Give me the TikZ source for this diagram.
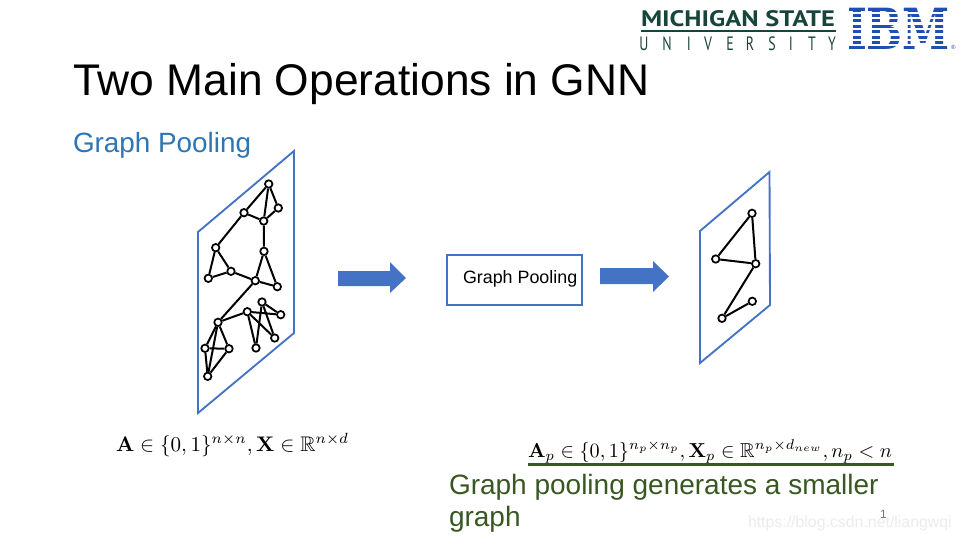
\documentclass[tikz,border=0pt]{standalone}
\usepackage{amsmath,amssymb}
\usepackage[no-math]{fontspec}
\setmainfont{Liberation Sans}
\newfontfamily\logofont[Scale=1]{PT Sans}
\newfontfamily\ibmfont{DejaVu Serif}
\definecolor{planeblue}{HTML}{4472C4}
\definecolor{headblue}{HTML}{2E75B6}
\definecolor{darkgreen}{HTML}{385723}
\definecolor{msugreen}{HTML}{18453B}
\definecolor{ibmblue}{HTML}{1F4FB5}
\tikzset{
  x=0.75pt,y=-0.75pt,
  plane/.style={draw=planeblue,line width=1.4pt,line join=miter},
  gnode/.style={circle,draw=black,fill=white,line width=1.3pt,minimum size=5.6pt,inner sep=0pt},
  gedge/.style={draw=black,line width=1.5pt},
  bigarrow/.style={fill=planeblue,draw=none},
  plain/.style={anchor=base west,inner sep=0pt,outer sep=0pt},
  ibmbar/.style={fill=white,draw=none},
}
\begin{document}
\begin{tikzpicture}
\useasboundingbox (0,0) rectangle (960,540);
% logos
\node[plain,text=msugreen] (msu) at (641,26) {\resizebox{145.5pt}{12pt}{\logofont\bfseries MICHIGAN STATE}};
\draw[msugreen,line width=1.2pt] (641,31) -- (836,31);
\foreach \l/\xx in {U/644,N/667,I/689,V/708,E/730,R/750,S/772,I/791,T/812,Y/832}
  \node[text=msugreen,anchor=base,inner sep=0pt] at (\xx,50) {\scalebox{0.72}[1]{\logofont\fontsize{14.5}{15}\selectfont \l}};
\node[plain,text=ibmblue] (ibm) at (847,49.5) {\resizebox{77.25pt}{31pt}{\ibmfont\bfseries IBM}};
\foreach \yy in {12.7,18,23.5,29,34.5,39.8,45.1}
  \fill[ibmbar] (845,\yy-1.1) rectangle (952,\yy+1.1);
\node[plain,text=ibmblue,font=\fontsize{4.5}{5}\selectfont] (reg) at (951,49) {®};
% title
\node[plain,font=\fontsize{33.25}{36}\selectfont] (title) at (73,95) {Two Main Operations in GNN};
\node[plain,text=headblue,font=\fontsize{20.9}{24}\selectfont] (sub) at (73,152) {Graph Pooling};
% left plane
\draw[plane] (198,232) -- (294,151) -- (294,333) -- (198,413) -- cycle;
\foreach \n/\px/\py in {a/268.7/184,b/278.3/208,c/263.7/221,d/244/212.7,e/215.7/247.7,f/264/251.3,g/231/271.3,h/208.3/278.3,i/255.3/280.7,j/277.3/286.7,k/218/322.3,l/247.3/311.7,m/262/302,o/280.7/314.7,p/274.7/338,q/256/348,r/205/348.3,s/229/348.7,t/207.7/376.3}
  \node[gnode] (\n) at (\px,\py) {};
\foreach \u/\v in {a/d,a/c,a/b,b/c,c/d,c/f,d/e,e/h,e/g,g/h,g/i,f/i,f/j,i/j,i/k,k/l,k/r,k/s,k/t,r/s,r/t,s/t,l/q,l/p,l/o,m/q,m/o,m/p}
  \draw[gedge] (\u) -- (\v);
% arrows
\fill[bigarrow] (338,271) -- (390,271) -- (390,262) -- (406,278) -- (390,293) -- (390,286) -- (338,286) -- cycle;
\node[draw=planeblue,line width=1.4pt,minimum width=101.25pt,minimum height=37.5pt,inner sep=0pt] (box) at (514.5,280) {};
\node[plain,font=\fontsize{13.4}{16}\selectfont] (boxt) at (463,283.5) {Graph Pooling};
\fill[bigarrow] (600,268) -- (653,268) -- (653,261) -- (669,276.5) -- (653,292) -- (653,284) -- (600,284) -- cycle;
% right plane
\draw[plane] (700,231) -- (769.5,172) -- (770,305) -- (700,363) -- cycle;
\foreach \n/\px/\py in {ra/752/213.3,rb/715.7/259,rc/755.7/263.7,rd/752.3/301.3,re/722/318.3}
  \node[gnode] (\n) at (\px,\py) {};
\foreach \u/\v in {ra/rb,ra/rc,rb/rc,rc/re,rd/re}
  \draw[gedge] (\u) -- (\v);
% formulas
\node[plain] (f1) at (116,451) {\resizebox{174.75pt}{!}{$\mathbf{A}\in\{0,1\}^{n\times n},\mathbf{X}\in\mathbb{R}^{n\times d}$}};
\node[plain] (f2) at (528,457) {\resizebox{273pt}{!}{$\mathbf{A}_p\in\{0,1\}^{n_p\times n_p},\mathbf{X}_p\in\mathbb{R}^{n_p\times d_{new}},n_p<n$}};
\draw[darkgreen,line width=2.3pt] (528,464.5) -- (894,464.5);
% green text
\node[plain,text=darkgreen,font=\fontsize{21}{24}\selectfont] (g1) at (449,494) {Graph pooling generates a smaller};
\node[plain,text=darkgreen,font=\fontsize{21}{24}\selectfont] (g2) at (449,526) {graph};
% page number and watermark
\node[plain,text=black!8,font=\fontsize{11.9}{13}\selectfont] (wm) at (748,527) {https://blog.csdn.net/liangwqi};
\node[plain,text=black!55,font=\fontsize{9}{10}\selectfont] (num) at (880,518) {1};
\end{tikzpicture}
\end{document}
